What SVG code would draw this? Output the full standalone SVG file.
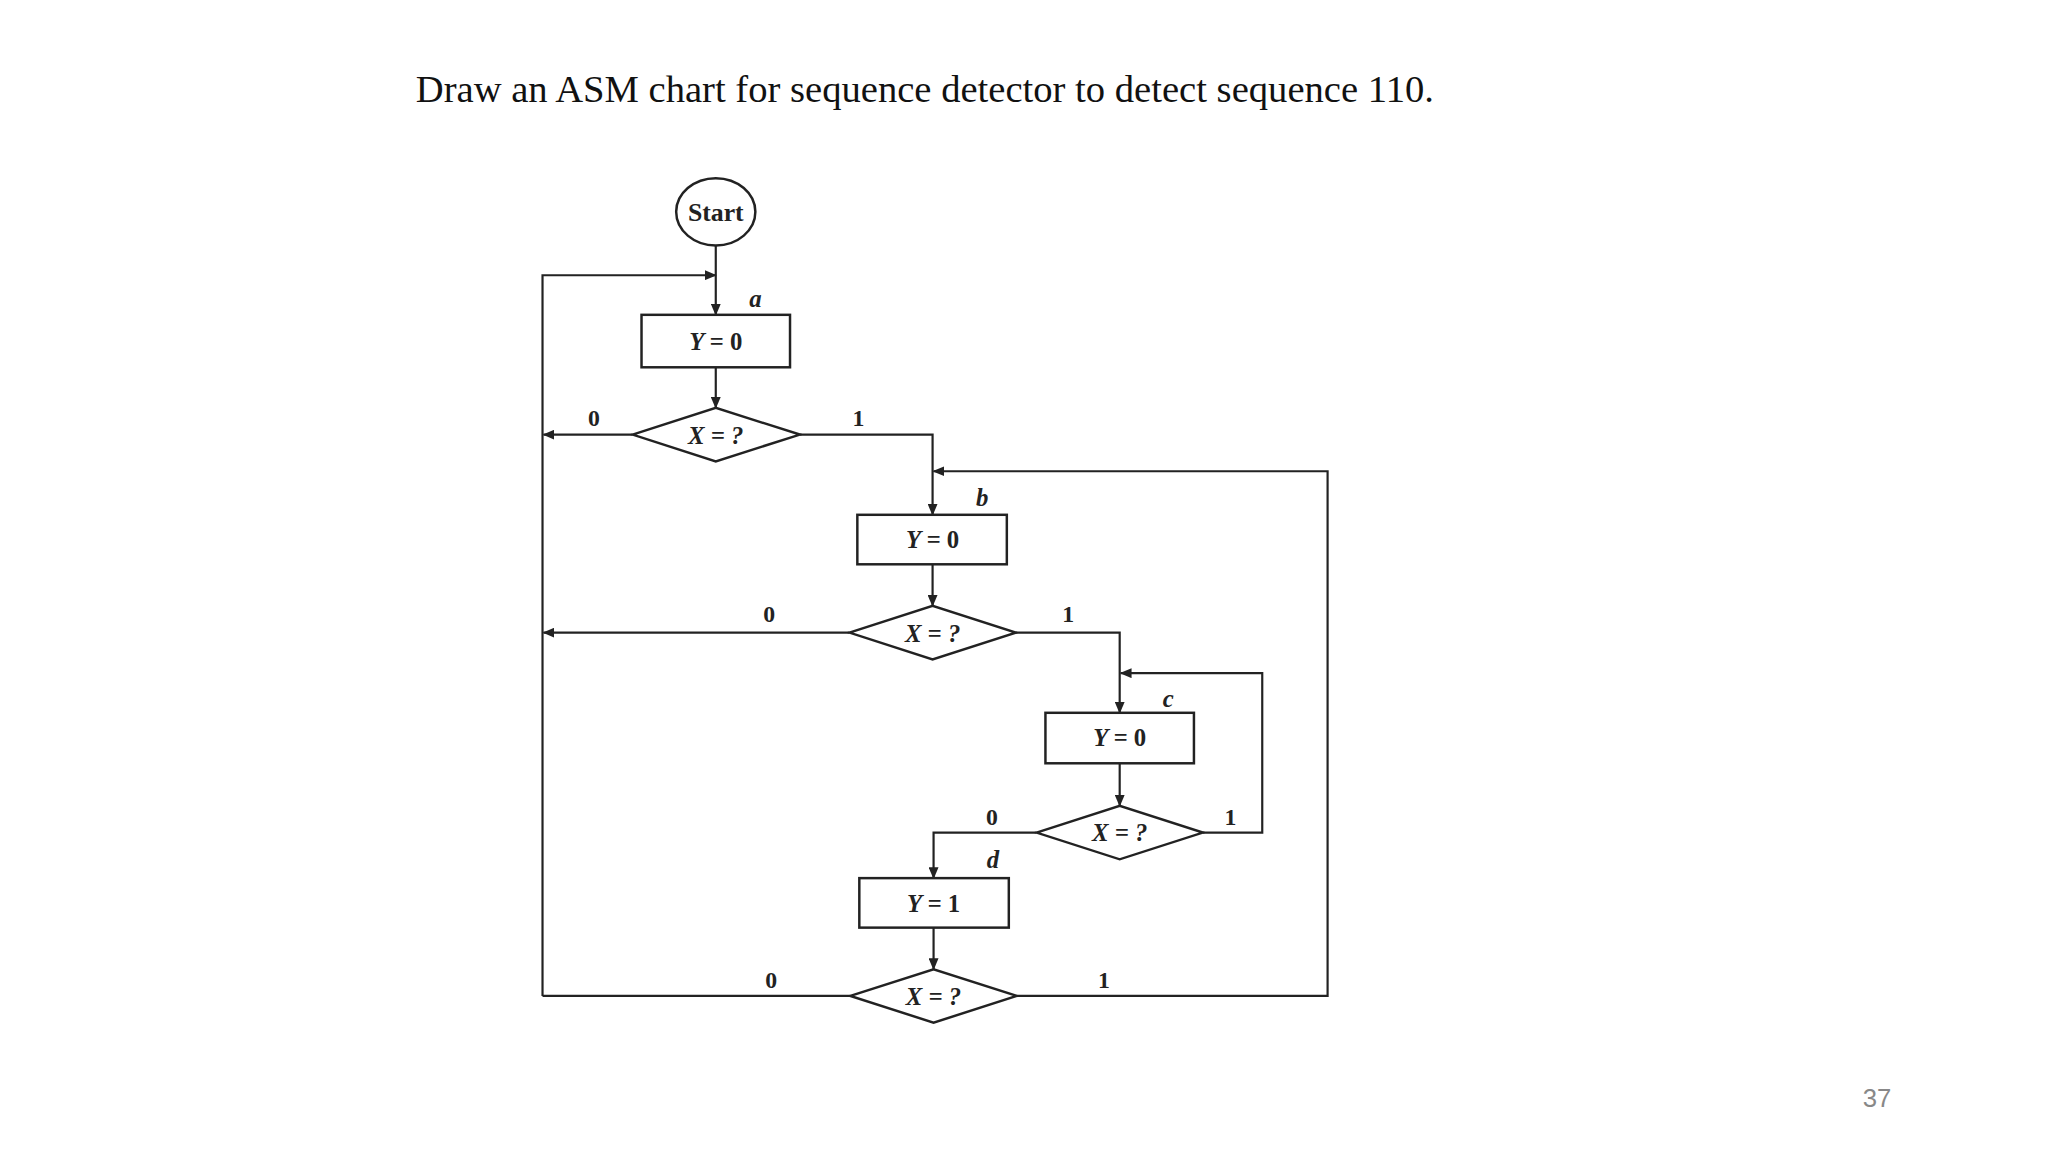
<svg xmlns="http://www.w3.org/2000/svg" width="2048" height="1152" viewBox="0 0 2048 1152">
<defs>
<marker id="ah" markerWidth="12" markerHeight="10" refX="11" refY="5" orient="auto" markerUnits="userSpaceOnUse"><path d="M0,0 L12,5 L0,10 Z" fill="#222"/></marker>
<style>
.s{fill:#fff;stroke:#222;stroke-width:2.5}
.c{fill:none;stroke:#222;stroke-width:2.2}
.t{font-family:"Liberation Serif",serif;font-size:26px;font-weight:bold;fill:#222;text-anchor:middle}
.l{font-family:"Liberation Serif",serif;font-size:25px;font-weight:bold;font-style:italic;fill:#222;text-anchor:middle}
.n{font-family:"Liberation Serif",serif;font-size:24px;font-weight:bold;fill:#222;text-anchor:middle}
</style>
</defs>
<rect width="2048" height="1152" fill="#fff"/>
<g transform="scale(0.99)">
<text x="420" y="103" font-family="Liberation Serif,serif" font-size="39" fill="#111">Draw an ASM chart for sequence detector to detect sequence 110.</text>
<g id="connectors">
<path class="c" d="M723,248 V318" marker-end="url(#ah)"/>
<path class="c" d="M548,1006 V278 H723" marker-end="url(#ah)"/>
<path class="c" d="M723,371 V412" marker-end="url(#ah)"/>
<path class="c" d="M639,439 H549" marker-end="url(#ah)"/>
<path class="c" d="M808,439 H942 V520" marker-end="url(#ah)"/>
<path class="c" d="M1027,1006 H1341 V476 H943" marker-end="url(#ah)"/>
<path class="c" d="M942,570 V612" marker-end="url(#ah)"/>
<path class="c" d="M858,639 H549" marker-end="url(#ah)"/>
<path class="c" d="M1026,639 H1131 V720" marker-end="url(#ah)"/>
<path class="c" d="M1131,771 V814" marker-end="url(#ah)"/>
<path class="c" d="M1215,841 H1275 V680 H1132" marker-end="url(#ah)"/>
<path class="c" d="M1047,841 H943 V887" marker-end="url(#ah)"/>
<path class="c" d="M943,937 V979" marker-end="url(#ah)"/>
<path class="c" d="M859,1006 H548"/>
</g>
<g id="start"><ellipse class="s" cx="723" cy="214" rx="40" ry="34"/><text class="t" x="723" y="223">Start</text></g>
<g id="stateA"><rect class="s" x="648" y="318" width="150" height="53"/><text class="l" x="723" y="354">Y = <tspan font-style="normal">0</tspan></text><text class="l" x="763" y="310">a</text></g>
<g id="decA"><path class="s" d="M639,439 L723,412 L808,439 L723,466 Z"/><text class="l" x="723" y="448">X = ?</text><text class="n" x="600" y="430">0</text><text class="n" x="867" y="430">1</text></g>
<g id="stateB"><rect class="s" x="866" y="520" width="151" height="50"/><text class="l" x="942" y="554">Y = <tspan font-style="normal">0</tspan></text><text class="l" x="992" y="511">b</text></g>
<g id="decB"><path class="s" d="M858,639 L942,612 L1026,639 L942,666 Z"/><text class="l" x="942" y="648">X = ?</text><text class="n" x="777" y="628">0</text><text class="n" x="1079" y="628">1</text></g>
<g id="stateC"><rect class="s" x="1056" y="720" width="150" height="51"/><text class="l" x="1131" y="754">Y = <tspan font-style="normal">0</tspan></text><text class="l" x="1180" y="714">c</text></g>
<g id="decC"><path class="s" d="M1047,841 L1131,814 L1215,841 L1131,868 Z"/><text class="l" x="1131" y="850">X = ?</text><text class="n" x="1002" y="833">0</text><text class="n" x="1243" y="833">1</text></g>
<g id="stateD"><rect class="s" x="868" y="887" width="151" height="50"/><text class="l" x="943" y="921">Y = <tspan font-style="normal">1</tspan></text><text class="l" x="1003" y="877">d</text></g>
<g id="decD"><path class="s" d="M859,1006 L943,979 L1027,1006 L943,1033 Z"/><text class="l" x="943" y="1015">X = ?</text><text class="n" x="779" y="998">0</text><text class="n" x="1115" y="998">1</text></g>
<text x="1896" y="1118" font-family="Liberation Sans,sans-serif" font-size="26" fill="#888" text-anchor="middle">37</text>
</g>
</svg>
